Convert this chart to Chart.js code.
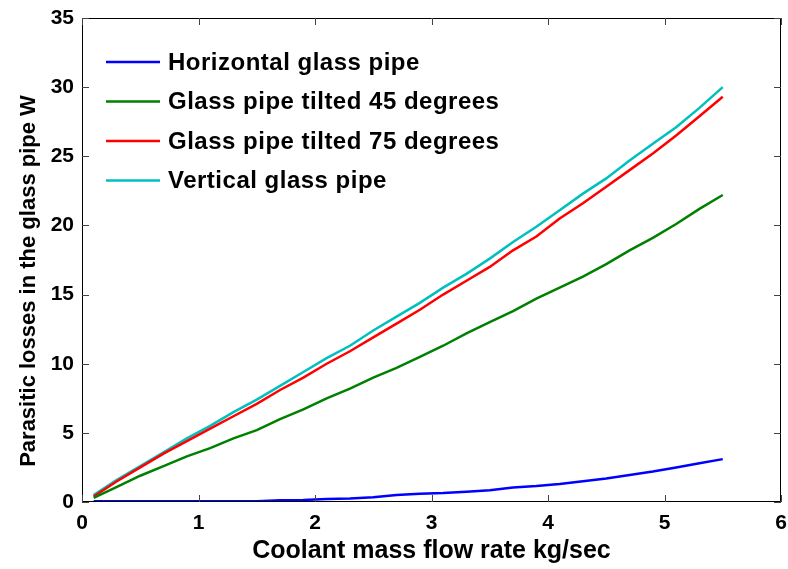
<!DOCTYPE html>
<html>
<head>
<meta charset="utf-8">
<script src="https://cdn.jsdelivr.net/npm/chart.js@4/dist/chart.umd.min.js"></script>
<style>
  html, body { margin: 0; padding: 0; background: #fff; }
  #wrap { width: 788px; height: 569px; }
</style>
</head>
<body>
<div id="wrap"><canvas id="myChart"></canvas></div>
<script>
'use strict';

// flow rate samples, kg/sec
var flowRate = [0.1, 0.3, 0.5, 0.7, 0.9, 1.1, 1.3, 1.5, 1.7, 1.9, 2.1, 2.3, 2.5, 2.7,
  2.9, 3.1, 3.3, 3.5, 3.7, 3.9, 4.1, 4.3, 4.5, 4.7, 4.9, 5.1, 5.3, 5.5];

var horizontal = [0.05, 0.05, 0.05, 0.05, 0.05, 0.05, 0.05, 0.05, 0.12, 0.15, 0.22, 0.25, 0.35, 0.5,
  0.6, 0.65, 0.75, 0.85, 1.05, 1.15, 1.3, 1.5, 1.7, 1.95, 2.2, 2.5, 2.8, 3.1];
var tilted45 = [0.3, 1.1, 1.9, 2.6, 3.3, 3.9, 4.6, 5.2, 6.0, 6.7, 7.5, 8.2, 9.0, 9.7,
  10.5, 11.3, 12.2, 13.0, 13.8, 14.7, 15.5, 16.3, 17.2, 18.2, 19.1, 20.1, 21.2, 22.2];
var tilted75 = [0.4, 1.5, 2.5, 3.5, 4.4, 5.3, 6.2, 7.1, 8.1, 9.0, 10.0, 10.9, 11.9, 12.9,
  13.9, 15.0, 16.0, 17.0, 18.2, 19.2, 20.5, 21.6, 22.8, 24.0, 25.2, 26.5, 27.9, 29.3];
var vertical = [0.5, 1.6, 2.6, 3.6, 4.6, 5.5, 6.5, 7.4, 8.4, 9.4, 10.4, 11.3, 12.4, 13.4,
  14.4, 15.5, 16.5, 17.6, 18.8, 19.9, 21.1, 22.3, 23.4, 24.7, 25.9, 27.1, 28.5, 30.0];

var seriesNames = ['Horizontal glass pipe', 'Glass pipe tilted 45 degrees',
  'Glass pipe tilted 75 degrees', 'Vertical glass pipe'];
var seriesColors = ['#0000ff', '#008000', '#ff0000', '#00bfbf'];

var xTicks = [0, 1, 2, 3, 4, 5, 6];
var yTicks = [0, 5, 10, 15, 20, 25, 30, 35];

var yTitle = 'Parasitic losses in the glass pipe W';
var xTitle = 'Coolant mass flow rate kg/sec';

var FONT = '"Liberation Sans", Arial, sans-serif';

function toPoints (ys) {
  var pts = [];
  for (var i = 0; i < flowRate.length; i++) {
    pts.push({ x: flowRate[i], y: ys[i] });
  }
  return pts;
}

var allSeries = [horizontal, tilted45, tilted75, vertical];
var datasets = [];
for (var i = 0; i < allSeries.length; i++) {
  datasets.push({
    label: seriesNames[i],
    data: toPoints(allSeries[i]),
    borderColor: seriesColors[i],
    backgroundColor: seriesColors[i],
    borderWidth: 2.5,
    pointRadius: 0,
    tension: 0
  });
}

// box around the plot with inward ticks on all four sides, the legend and the y title
var framePlugin = {
  id: 'frame',
  afterDatasetsDraw: function (chart) {
    var ctx = chart.ctx;
    var a = chart.chartArea;
    var xs = chart.scales.x;
    var ys = chart.scales.y;
    ctx.save();
    ctx.strokeStyle = '#000';
    ctx.lineWidth = 1;
    ctx.beginPath();
    ctx.rect(a.left + 0.5, a.top + 0.5, a.right - a.left - 1, a.bottom - a.top - 1);
    ctx.stroke();

    ctx.strokeStyle = '#444';
    ctx.beginPath();
    xTicks.forEach(function (v) {
      var px = Math.round(xs.getPixelForValue(v)) + 0.5;
      ctx.moveTo(px, a.bottom);
      ctx.lineTo(px, a.bottom - 7);
      ctx.moveTo(px, a.top);
      ctx.lineTo(px, a.top + 7);
    });
    yTicks.forEach(function (v) {
      var py = Math.round(ys.getPixelForValue(v)) + 0.5;
      ctx.moveTo(a.left, py);
      ctx.lineTo(a.left + 7, py);
      ctx.moveTo(a.right, py);
      ctx.lineTo(a.right - 7, py);
    });
    ctx.stroke();

    // legend
    ctx.font = 'bold 24px ' + FONT;
    ctx.letterSpacing = '0.5px';
    ctx.textBaseline = 'middle';
    ctx.textAlign = 'left';
    for (var k = 0; k < seriesNames.length; k++) {
      var yy = a.top + 44 + k * 39.5;
      ctx.strokeStyle = seriesColors[k];
      ctx.lineWidth = 2.5;
      ctx.beginPath();
      ctx.moveTo(a.left + 24, yy);
      ctx.lineTo(a.left + 78, yy);
      ctx.stroke();
      ctx.fillStyle = '#000';
      ctx.fillText(seriesNames[k], a.left + 86, yy + 1);
    }

    // y axis title
    ctx.letterSpacing = '0px';
    ctx.font = 'bold 22px ' + FONT;
    ctx.textAlign = 'center';
    ctx.translate(29, 281);
    ctx.rotate(-Math.PI / 2);
    ctx.fillText(yTitle, 0, 0);
    ctx.restore();
  }
};

var ctx = document.getElementById('myChart').getContext('2d');
var chart = new Chart(ctx, {
  type: 'line',
  data: { datasets: datasets },
  plugins: [framePlugin],
  options: {
    responsive: true,
    maintainAspectRatio: false,
    animation: false,
    layout: { padding: { top: 18, right: 7, left: 0, bottom: 0 } },
    plugins: {
      legend: { display: false },
      tooltip: { enabled: false }
    },
    scales: {
      x: {
        type: 'linear',
        min: 0,
        max: 6,
        afterBuildTicks: function (scale) {
          scale.ticks = xTicks.map(function (v) { return { value: v }; });
        },
        afterFit: function (scale) { scale.height = 67; },
        grid: { display: false },
        border: { display: false },
        ticks: {
          color: '#000',
          padding: 1,
          maxRotation: 0,
          font: { family: FONT, size: 21, weight: 'bold' }
        },
        title: {
          display: true,
          text: xTitle,
          color: '#000',
          padding: { top: 0, bottom: 3 },
          font: { family: FONT, size: 25, weight: 'bold' }
        }
      },
      y: {
        type: 'linear',
        min: 0,
        max: 35,
        afterBuildTicks: function (scale) {
          scale.ticks = yTicks.map(function (v) { return { value: v }; });
        },
        afterFit: function (scale) { scale.width = 82; },
        grid: { display: false },
        border: { display: false },
        ticks: {
          color: '#000',
          padding: 0,
          font: { family: FONT, size: 21, weight: 'bold' }
        }
      }
    }
  }
});
</script>
</body>
</html>
